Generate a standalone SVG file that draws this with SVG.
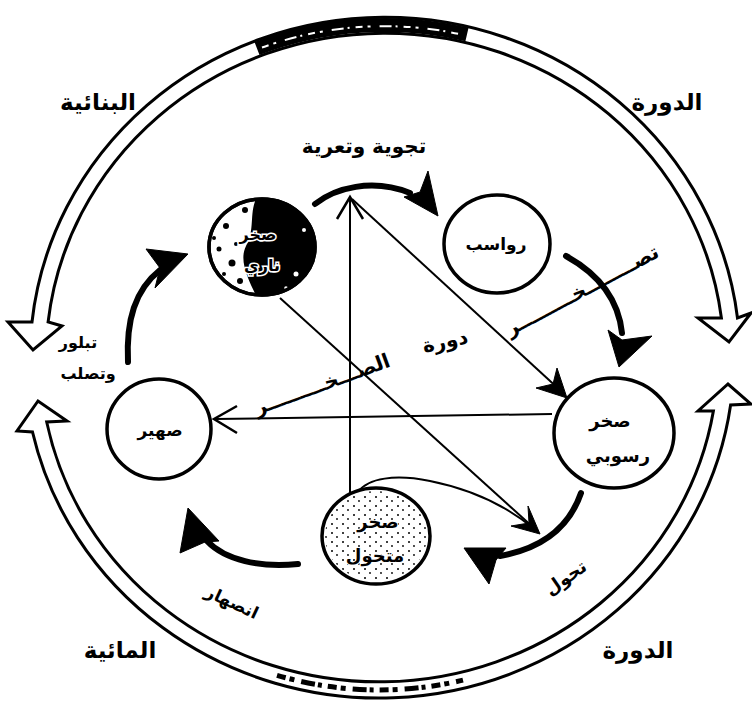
<svg xmlns="http://www.w3.org/2000/svg" width="752" height="702" viewBox="0 0 752 702">
<style>
.t{font-family:"DejaVu Sans",sans-serif;font-weight:bold;fill:#000;text-anchor:middle;}
.band{fill:#fff;stroke:#000;stroke-width:3;stroke-linejoin:miter;}
.node{fill:#fff;stroke:#000;stroke-width:3.5;}
.thin{fill:none;stroke:#000;stroke-width:2;}
.open{fill:none;stroke:#000;stroke-width:2.5;stroke-linejoin:miter;}
.thick{fill:none;stroke:#000;stroke-width:6;stroke-linecap:round;}
.head{fill:#000;stroke:#000;stroke-width:1;stroke-linejoin:round;}
</style>
<defs>
<pattern id="dots" width="11" height="9" patternUnits="userSpaceOnUse">
<circle cx="2" cy="2" r="1" fill="#000"/>
<circle cx="7" cy="6" r="0.9" fill="#000"/>
</pattern>
<clipPath id="igc"><ellipse cx="262" cy="247" rx="53" ry="48"/></clipPath>
</defs>
<rect width="752" height="702" fill="#fff"/>

<g id="outer-cycles">
<path class="band" d="M 32,322 A 355 341 0 0 1 737.5,318 L 751,313 L 729,342 L 698,318 L 721.4,318 A 339 325 0 0 0 48.1,322 L 62,326 L 33,350 L 8,322 Z"/>
<path d="M 257,48.5 A 347 333 0 0 1 467,34.4" fill="none" stroke="#000" stroke-width="14"/>
<path d="M 262,47.5 A 347 333 0 0 1 462,34.6" fill="none" stroke="#fff" stroke-width="2" stroke-dasharray="7 5 3 9 12 4 2 6"/>
<path class="band" d="M 32.5,432 A 355 340 0 0 0 730.6,405 L 751,404 L 728,384 L 698,411 L 713.4,411 A 339 324 0 0 1 46.7,422 L 67,421 L 38,401 L 17,431 Z"/>
<path d="M 277,675.3 A 347 332 0 0 0 463,680.1" fill="none" stroke="#000" stroke-width="5" stroke-dasharray="9 4 5 7 14 3 4 6"/>
<text class="t" x="98" y="110" font-size="23">البنائية</text>
<text class="t" x="667" y="110" font-size="23">الدورة</text>
<text class="t" x="120" y="658" font-size="23">المائية</text>
<text class="t" x="638" y="658" font-size="23">الدورة</text>
</g>

<g id="connectors">
<path class="thin" d="M 350,493 L 350,199"/>
<path class="open" d="M 337,219 L 350,197 L 363,219"/>
<path class="thin" d="M 352,199 L 561,391"/>
<polygon class="head" points="567,398 557,368 553,384 536,388"/>
<path class="thin" d="M 280,298 L 535,529"/>
<polygon class="head" points="540,534 528,506 529,523 511,526"/>
<path class="thin" d="M 358,492 C 368,478 395,474 430,481 C 470,489 505,505 533,528"/>
<path class="thin" d="M 552,414 L 215,419"/>
<path class="open" d="M 237,406 L 214,419 L 237,433"/>
<path class="thick" d="M 315,204 C 335,188 372,178 410,193"/>
<polygon class="head" points="428,171 438,216 404,197 420,192"/>
<path class="thick" d="M 566,256 C 595,272 618,295 622,333"/>
<polygon class="head" points="608,330 622,340 652,336 619,367"/>
<path class="thick" d="M 581,493 C 570,525 545,548 500,556"/>
<polygon class="head" points="464,548 506,548 496,560 489,584"/>
<path class="thick" d="M 298,564 C 260,568 225,560 207,541"/>
<polygon class="head" points="188,508 219,541 205,542 180,553"/>
<path class="thick" d="M 128,362 C 126,320 135,290 160,270"/>
<polygon class="head" points="188,254 146,249 160,268 155,288"/>
</g>

<g id="labels">
<text class="t" x="364" y="153" font-size="20">تجوية وتعرية</text>
<text class="t" x="582" y="297" font-size="20" transform="rotate(-28 582 290)">تصــــــــخـــــــــر</text>
<text class="t" x="445" y="348" font-size="20" transform="rotate(-12 445 341)">دورة</text>
<text class="t" x="322" y="391" font-size="20" transform="rotate(-20 322 384)">الصـــخـــــــــر</text>
<text class="t" x="565" y="584" font-size="18" transform="rotate(-35 565 577)">تحول</text>
<text class="t" x="232" y="608" font-size="17" transform="rotate(25 232 602)">انصهار</text>
<text class="t" x="78" y="348" font-size="16">تبلور</text>
<text class="t" x="88" y="379" font-size="16">وتصلب</text>
</g>

<g id="node-igneous">
<ellipse class="node" cx="262" cy="247" rx="53" ry="48"/>
<g clip-path="url(#igc)" fill="#000">
<path d="M 258,195 C 248,212 256,228 246,246 C 238,262 250,282 258,300 L 320,300 L 320,195 Z"/>
<circle cx="226" cy="226" r="3"/>
<circle cx="219" cy="249" r="2.5"/>
<circle cx="232" cy="263" r="3.5"/>
<circle cx="214" cy="238" r="2"/>
<circle cx="240" cy="281" r="3"/>
<circle cx="245" cy="210" r="3"/>
<circle cx="236" cy="244" r="2"/>
<circle cx="224" cy="274" r="2"/>
<circle cx="296" cy="274" r="2.5" fill="#fff"/>
<circle cx="304" cy="230" r="2" fill="#fff"/>
<circle cx="286" cy="288" r="1.8" fill="#fff"/>
</g>
<ellipse cx="262" cy="247" rx="53" ry="48" fill="none" stroke="#000" stroke-width="3.5"/>
<text class="t" x="258" y="240" font-size="16" stroke="#fff" stroke-width="3" paint-order="stroke">صخر</text>
<text class="t" x="262" y="271" font-size="16" stroke="#fff" stroke-width="3" paint-order="stroke">ناري</text>
</g>

<g id="node-sediments">
<ellipse class="node" cx="497" cy="244" rx="53" ry="49"/>
<text class="t" x="496" y="250" font-size="17">رواسب</text>
</g>

<g id="node-sedimentary">
<ellipse class="node" cx="614" cy="433" rx="60" ry="55"/>
<text class="t" x="610" y="427" font-size="18">صخر</text>
<text class="t" x="618" y="462" font-size="18">رسوبي</text>
</g>

<g id="node-metamorphic">
<ellipse class="node" cx="376" cy="536" rx="54" ry="48"/>
<ellipse cx="376" cy="536" rx="51" ry="45" fill="url(#dots)"/>
<text class="t" x="378" y="528" font-size="18" stroke="#fff" stroke-width="2" paint-order="stroke">صخر</text>
<text class="t" x="375" y="562" font-size="18" stroke="#fff" stroke-width="2" paint-order="stroke">متحول</text>
</g>

<g id="node-magma">
<ellipse class="node" cx="159" cy="429" rx="52" ry="50"/>
<text class="t" x="160" y="436" font-size="17">صهير</text>
</g>
</svg>
